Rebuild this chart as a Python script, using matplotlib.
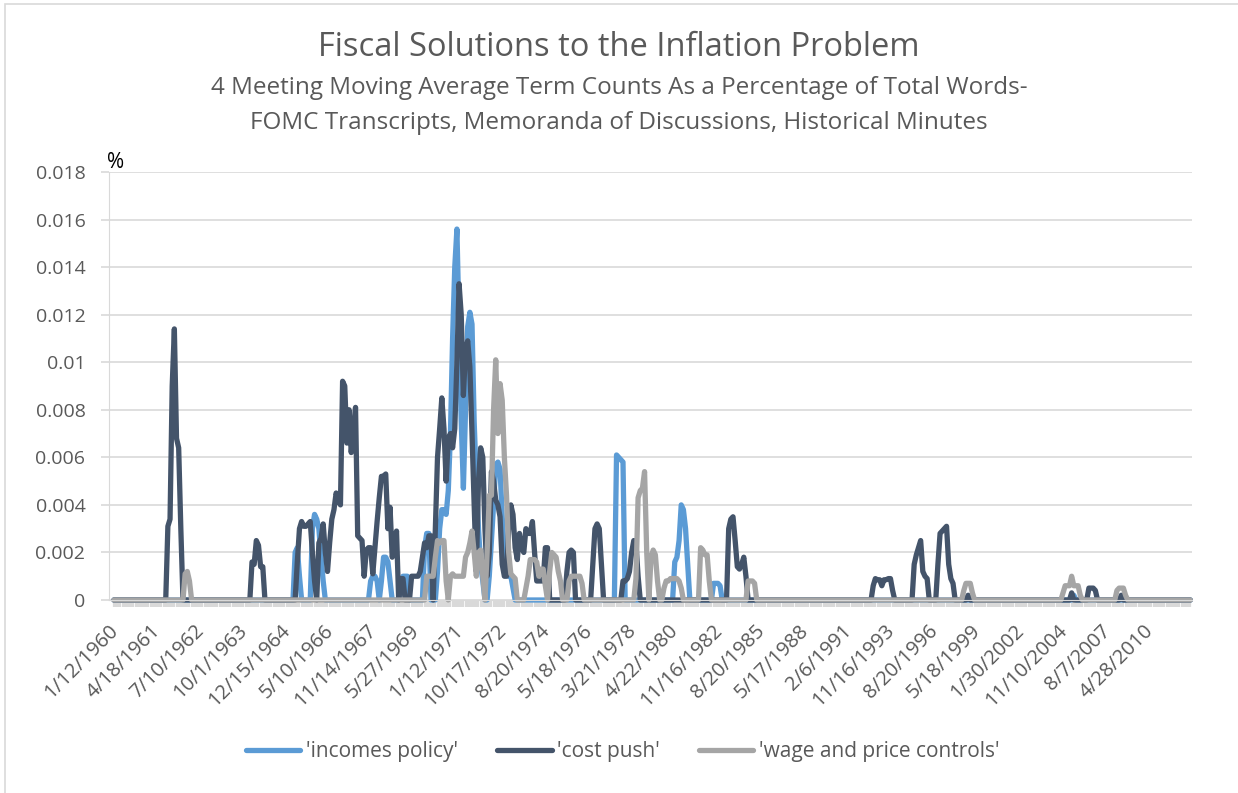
"""
Fiscal Solutions to the Inflation Problem -- FOMC term counts chart.
Excel-style category line chart rebuilt with matplotlib.
"""

import numpy as np
import matplotlib
matplotlib.use("Agg")
import matplotlib.pyplot as plt
from matplotlib.patches import Rectangle
from matplotlib.transforms import ScaledTranslation


# ------------------------------------------------------------------ #
# Data
# ------------------------------------------------------------------ #
n_meetings = 500          # categories on the x axis (one per meeting)
label_step = 20           # Excel shows every 20th meeting date

date_labels = [
    "1/12/1960", "4/18/1961", "7/10/1962", "10/1/1963", "12/15/1964",
    "5/10/1966", "11/14/1967", "5/27/1969", "1/12/1971", "10/17/1972",
    "8/20/1974", "5/18/1976", "3/21/1978", "4/22/1980", "11/16/1982",
    "8/20/1985", "5/17/1988", "2/6/1991", "11/16/1993", "8/20/1996",
    "5/18/1999", "1/30/2002", "11/10/2004", "8/7/2007", "4/28/2010",
]

# Each series is mostly zero; runs are (first meeting index, values)
incomes_policy_runs = [
    (84, [0.0020, 0.0022, 0.0010]),
    (92, [0.0030, 0.0036, 0.0034, 0.0030, 0.0018, 0.0008]),
    (119, [0.0008, 0.0010, 0.0010, 0.0008, 0, 0.0008, 0.0018, 0.0018,
           0.0016, 0.0008]),
    (133, [0.0008, 0.0010, 0.0010, 0.0010]),
    (144, [0.0022, 0.0028, 0.0028]),
    (150, [0.0012, 0.0030, 0.0038, 0.0038, 0.0036, 0.0046, 0.0070, 0.0110,
           0.0140, 0.0156, 0.0115, 0.0075, 0.0047, 0.0080, 0.0115, 0.0121,
           0.0116, 0.0075, 0.0050, 0.0030, 0.0015, 0.0008]),
    (174, [0.0010, 0.0025, 0.0040, 0.0057, 0.0058, 0.0055, 0.0035, 0.0020,
           0.0012, 0.0010, 0.0010, 0.0005]),
    (233, [0.0061, 0.0060, 0.0059, 0.0058]),
    (260, [0.0016, 0.0018, 0.0025, 0.0040, 0.0038, 0.0030, 0.0015]),
    (278, [0.0007, 0.0007, 0.0007, 0.0006]),
    (445, [0.0002]),
]

cost_push_runs = [
    (25, [0.0031, 0.0034, 0.0090, 0.0114, 0.0068, 0.0064, 0.0030]),
    (64, [0.0016, 0.0015, 0.0025, 0.0023, 0.0014, 0.0014]),
    (85, [0.0016, 0.0030, 0.0033, 0.0031, 0.0031, 0.0032, 0.0033, 0.0020,
          0.0008, 0, 0.0024, 0.0026, 0.0032, 0.0020, 0.0012, 0.0024,
          0.0034, 0.0038, 0.0045, 0.0042, 0.0040, 0.0092, 0.0090, 0.0066,
          0.0080, 0.0062, 0.0072, 0.0081, 0.0027, 0.0026, 0.0025, 0.0010,
          0.0021, 0.0022, 0.0022, 0.0011, 0.0022, 0.0033, 0.0043, 0.0052,
          0.0052, 0.0053, 0.0030, 0.0039, 0.0018, 0.0021, 0.0029, 0,
          0.0009, 0.0009]),
    (138, [0.0010, 0.0010, 0.0010, 0.0010, 0.0012, 0.0018, 0.0024, 0.0022,
           0.0027, 0.0027, 0, 0.0030, 0.0060, 0.0072, 0.0085, 0.0072,
           0.0050, 0.0068, 0.0070, 0.0064, 0.0072, 0.0100, 0.0133, 0.0120,
           0.0086, 0.0105, 0.0109, 0.0098, 0.0070, 0.0040, 0.0012, 0.0050,
           0.0064, 0.0060, 0.0030, 0.0010, 0.0020, 0.0054, 0.0050, 0.0042,
           0.0040, 0.0035, 0.0015, 0.0010, 0.0010, 0.0030, 0.0040, 0.0036,
           0.0022, 0.0017, 0.0028, 0.0022, 0.0020, 0.0030, 0.0028, 0.0028,
           0.0033, 0.0020, 0.0008, 0.0008, 0.0008, 0.0008, 0.0022, 0.0022]),
    (210, [0.0012, 0.0020, 0.0021, 0.0020]),
    (222, [0.0015, 0.0030, 0.0032, 0.0030, 0.0015]),
    (236, [0.0008, 0.0008, 0.0009, 0.0012, 0.0020, 0.0025, 0.0024, 0.0010]),
    (285, [0.0030, 0.0034, 0.0035, 0.0025, 0.0014, 0.0013, 0.0015, 0.0018,
           0.0010]),
    (352, [0.0006, 0.0009, 0.00085, 0.00085, 0.0006, 0.00085, 0.00085,
           0.0009, 0.0009, 0.0004]),
    (371, [0.0015, 0.0019, 0.0022, 0.0025, 0.0012, 0.0010, 0.0009]),
    (382, [0.0015, 0.0028, 0.0029, 0.0030, 0.0031, 0.0015, 0.0009, 0.0007]),
    (396, [0.0002]),
    (444, [0.0003]),
    (452, [0.0005, 0.0005, 0.0005, 0.0004]),
    (467, [0.0002]),
]

wage_price_runs = [
    (33, [0.0011, 0.0012, 0.0008]),
    (145, [0.0010, 0.0010, 0.0010, 0.0010, 0.0018, 0.0025, 0.0024, 0.0025,
           0.0025, 0.0008, 0, 0.0010, 0.0011, 0.0010, 0.0010, 0.0010,
           0.0010, 0.0010, 0.0018, 0.0020, 0.0024, 0.0029, 0.0020, 0.0010,
           0.0020, 0.0021, 0.0010, 0, 0.0020, 0.0044, 0.0044, 0.0080,
           0.0101, 0.0070, 0.0091, 0.0084, 0.0060, 0.0044, 0.0020, 0.0011,
           0.0010, 0.0009]),
    (191, [0.0005, 0.0010, 0.0017, 0.0017, 0.0017, 0.0016, 0.0010, 0.0013,
           0.0013, 0.0006, 0, 0.0012, 0.0020, 0.0019, 0.0018, 0.0012,
           0.0008]),
    (211, [0.0008, 0.0010, 0.0010, 0.0010, 0.0010, 0.0010, 0.0007]),
    (242, [0.0009, 0.0043, 0.0046, 0.0047, 0.0054, 0.0020, 0, 0.0018,
           0.0021, 0.0019, 0.0008]),
    (255, [0.0005, 0.0008, 0.0008, 0.0009, 0.0009, 0.0009, 0.0009, 0.0008,
           0.0005]),
    (272, [0.0022, 0.0021, 0.0019, 0.0019, 0.0008]),
    (294, [0.0008, 0.0008, 0.0008, 0.0007]),
    (394, [0.0004, 0.0007, 0.0007, 0.0007, 0.0003]),
    (440, [0.0003, 0.0006, 0.0006, 0.0006, 0.0010, 0.0006, 0.0006, 0.0006,
           0.0002]),
    (465, [0.0004, 0.0005, 0.0005, 0.0005, 0.0002]),
]

series_names = ["'incomes policy'", "'cost push'", "'wage and price controls'"]
series_colors = ["#5B9BD5", "#44546A", "#A5A5A5"]


def expand_runs(runs, n):
    """Turn (start, values) runs into a full per-meeting array of zeros."""
    out = np.zeros(n)
    for start, vals in runs:
        out[start:start + len(vals)] = vals
    return out


# ------------------------------------------------------------------ #
# Figure
# ------------------------------------------------------------------ #
plt.rcParams["font.family"] = ["Open Sans", "DejaVu Sans"]
text_color = "#595959"
grid_color = "#D9D9D9"

fig = plt.figure(figsize=(12.38, 7.93), dpi=100)
ax = fig.add_axes([109 / 1238, 1 - 600 / 793, 1083 / 1238, 428 / 793])

x = np.arange(n_meetings)
all_runs = [incomes_policy_runs, cost_push_runs, wage_price_runs]
for runs, name, color in zip(all_runs, series_names, series_colors):
    ax.plot(x, expand_runs(runs, n_meetings), color=color, lw=3.8,
            solid_joinstyle="round", solid_capstyle="round",
            label=name, clip_on=False)

ax.set_xlim(-2.3, 499.8)
ax.set_ylim(0, 0.018)

# y axis: plain decimals, light gridlines with short outside ticks
yticks = np.arange(0, 0.0181, 0.002)
ax.set_yticks(yticks)
ax.set_yticklabels(["0"] + [f"{v:.3f}".rstrip("0") for v in yticks[1:]])
ax.yaxis.grid(True, color=grid_color, lw=1.2)
ax.set_axisbelow(True)
ax.tick_params(axis="y", length=5.5, width=1.2, color=grid_color, pad=11.5,
               labelsize=14, labelcolor=text_color)

# x axis: dense category ticks, every 20th meeting labelled
ax.set_xticks(np.arange(0, n_meetings, label_step))
ax.set_xticklabels(date_labels, rotation=45, ha="right", va="top",
                   rotation_mode="anchor")
ax.set_xticks(x, minor=True)
ax.tick_params(axis="x", which="both", direction="out", length=5,
               width=1.6, color=grid_color, labelsize=14.5,
               labelcolor=text_color, pad=10)
# Excel puts the end of each rotated date right under its tick
shift = ScaledTranslation(-6 / 100, 0, fig.dpi_scale_trans)
for lbl in ax.get_xticklabels():
    lbl.set_transform(lbl.get_transform() + shift)

for side in ("top", "right"):
    ax.spines[side].set_visible(False)
ax.spines["left"].set_color(grid_color)
ax.spines["bottom"].set_color(grid_color)

# titles
fig.text(0.5, 1 - 47 / 793, "Fiscal Solutions to the Inflation Problem",
         ha="center", va="center", fontsize=23.5, color=text_color)
fig.text(0.5, 1 - 88 / 793,
         "4 Meeting Moving Average Term Counts As a Percentage of Total Words-",
         ha="center", va="center", fontsize=17.5, color=text_color)
fig.text(0.5, 1 - 123 / 793,
         "FOMC Transcripts, Memoranda of Discussions, Historical Minutes",
         ha="center", va="center", fontsize=17.5, color=text_color)
fig.text(107 / 1238, 1 - 162 / 793, "%", ha="left", va="center",
         fontsize=15, color="black")

ax.legend(loc="center", bbox_to_anchor=(0.503, 1 - 752 / 793),
          bbox_transform=fig.transFigure, ncol=3, frameon=False,
          fontsize=15, handlelength=2.6, handletextpad=0.25,
          columnspacing=1.9, labelcolor=text_color)

# chart-area border
fig.patches.append(Rectangle((5 / 1238, -0.01), 1.1, 1 - 4 / 793 + 0.01,
                             transform=fig.transFigure, fill=False,
                             edgecolor=grid_color, lw=1.2))

fig.savefig("out.png", dpi=100)
plt.close(fig)
